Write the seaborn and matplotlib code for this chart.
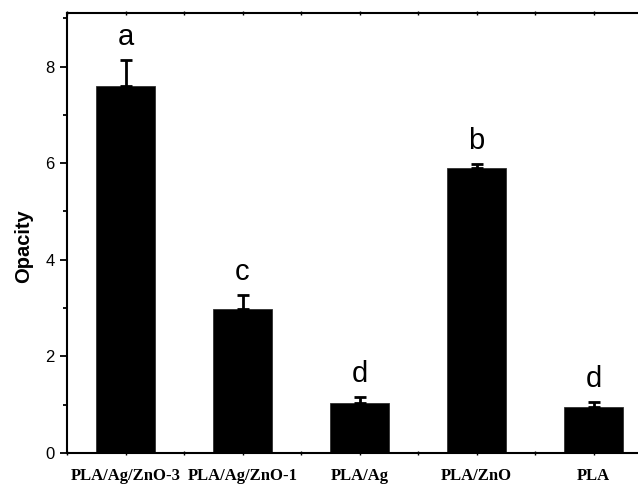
import matplotlib
matplotlib.use("Agg")
import matplotlib.pyplot as plt
from matplotlib.ticker import MultipleLocator
import seaborn as sns
import pandas as pd

samples = ["PLA/Ag/ZnO-3", "PLA/Ag/ZnO-1", "PLA/Ag", "PLA/ZnO", "PLA"]
opacity = [7.60, 2.99, 1.04, 5.91, 0.95]
opacity_sd = [0.54, 0.28, 0.12, 0.07, 0.10]
groups = ["a", "c", "d", "b", "d"]

df = pd.DataFrame({"sample": samples, "opacity": opacity})

sns.set_style("ticks")
plt.rcParams["font.family"] = ["Liberation Sans", "DejaVu Sans"]
plt.rcParams["text.color"] = "black"
plt.rcParams["axes.labelcolor"] = "black"
plt.rcParams["xtick.color"] = "black"
plt.rcParams["ytick.color"] = "black"

fig = plt.figure(figsize=(6.38, 4.86), dpi=100)
ax = fig.add_axes([67 / 638, 1 - 453 / 486, (652 - 67) / 638, (453 - 12.5) / 486])

sns.barplot(data=df, x="sample", y="opacity", color="black", width=0.5,
            errorbar=None, saturation=1, edgecolor="#303030", linewidth=0.6, ax=ax)

# one-sided (upper) standard deviation bars
ax.errorbar(range(len(samples)), opacity, yerr=[[0] * len(samples), opacity_sd],
            fmt="none", ecolor="black", elinewidth=2, capsize=4, capthick=2, zorder=3)

# significance letters above each bar
for i, (m, s, g) in enumerate(zip(opacity, opacity_sd, groups)):
    ax.annotate(g, xy=(i, m + s), xytext=(0, 11), textcoords="offset points",
                ha="center", va="baseline", fontsize=21, color="black")

ax.set_xlim(-0.5, 4.5)
ax.set_ylim(0, 9.12)
ax.yaxis.set_major_locator(MultipleLocator(2))
ax.yaxis.set_minor_locator(MultipleLocator(1))
ax.xaxis.set_minor_locator(MultipleLocator(0.5))

for side in ["top", "right", "left", "bottom"]:
    ax.spines[side].set_visible(True)
    ax.spines[side].set_linewidth(1.5)
    ax.spines[side].set_color("black")

ax.tick_params(axis="y", which="major", direction="out", length=5, width=1.3,
               labelsize=12, pad=4, colors="black")
ax.tick_params(axis="y", which="minor", direction="out", length=3, width=1.3)
ax.tick_params(axis="x", which="both", direction="inout", length=3, width=1.0,
               top=True, bottom=True, labeltop=False, pad=9, colors="black")

ax.set_xticks(range(len(samples)))
ax.set_xticklabels(samples, fontfamily="Liberation Serif", fontweight="bold",
                   fontsize=12)
ax.set_xlabel("")
ax.set_ylabel("Opacity", fontsize=14.5, fontweight="bold")
ax.yaxis.set_label_coords(-0.058, 0.47)

fig.savefig("out.png", dpi=100)
